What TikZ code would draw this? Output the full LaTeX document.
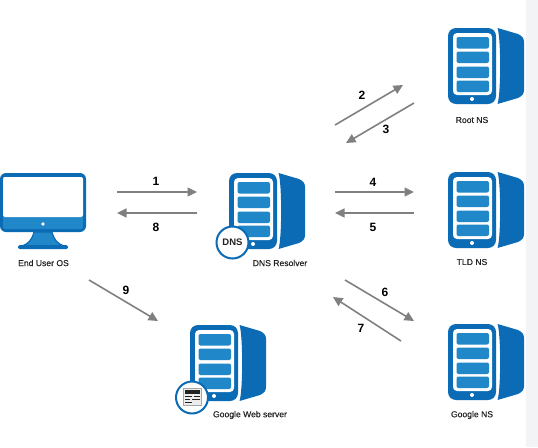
\documentclass[tikz,border=0pt]{standalone}
\usepackage{fontspec}
\setmainfont{Liberation Sans}
\newfontfamily\capfont[FakeBold=0.25]{Liberation Sans}
\usetikzlibrary{arrows.meta}
\definecolor{srvdark}{HTML}{0B6BB5}
\definecolor{srvbar}{HTML}{2087C9}
\definecolor{arrowgray}{HTML}{808080}
\definecolor{panelgray}{HTML}{F3F4F6}
\definecolor{labelink}{HTML}{222222}
\tikzset{
  flow/.style={draw=arrowgray,line width=1.6pt,-{Triangle[length=9.5pt,width=9pt]}},
  numlabel/.style={font=\bfseries\fontsize{12}{13}\selectfont,text=black,inner sep=0pt},
  caption/.style={font=\capfont\fontsize{8.6}{10}\selectfont,text=labelink,inner sep=0pt},
  server/.pic={
    \fill[srvdark,rounded corners=8pt] (0,0) rectangle (48,76);
    \fill[white,rounded corners=4pt] (5,5) rectangle (44,67);
    \foreach \ya/\yb in {9/20.5,23.5/35,38.5/50,52.5/64}
      \fill[srvbar,rounded corners=2pt] (8.5,\ya) rectangle (41,\yb);
    \fill[white] (24,71) circle (2);
    \fill[srvdark] (49.5,0) .. controls (53,10) and (53,66) .. (49.5,76)
       -- (70,70) .. controls (74,68) and (76,66) .. (76,62)
       -- (76,14) .. controls (76,10) and (74,8) .. (70,6) -- cycle;
  }
}
\begin{document}
\begin{tikzpicture}[x=1pt,y=-1pt]
\useasboundingbox (0,0) rectangle (538,447);
\fill[panelgray] (526,0) rectangle (538,447);

% monitor
\fill[srvdark,rounded corners=6pt] (0,173) rectangle (86,232);
\fill[srvbar,rounded corners=2pt] (3,215) rectangle (83,229);
\fill[white,rounded corners=2pt] (3,177) rectangle (83,217);
\fill[white] (43,224) circle (1.8);
\fill[srvbar,draw=srvdark,line width=1.2pt] (34,232) .. controls (32,240) and (28,244) .. (22,246) -- (64,246) .. controls (58,244) and (54,240) .. (52,232) -- cycle;
\fill[srvdark,rounded corners=1.5pt] (18,245) rectangle (68,249);
\node[caption] (user) at (43.5,263) {End User OS};

% servers
\pic at (229,173) {server};
\pic at (448,28) {server};
\pic at (448,172) {server};
\pic at (448,324) {server};
\pic at (190,325) {server};

% badges
\node[circle,draw=srvdark,fill=white,line width=2pt,minimum size=32pt,inner sep=0pt,font=\bfseries\fontsize{9.5}{10}\selectfont,text=labelink] (dnsbadge) at (232.5,242.5) {DNS};
\node[circle,draw=srvdark,fill=white,line width=2pt,minimum size=32pt,inner sep=0pt] (webbadge) at (192,397.5) {};
\fill[gray!70] (183,388) rectangle (202,406);
\fill[gray!15] (184,389) rectangle (201,405);
\fill[labelink] (185,390) rectangle (200,394);
\fill[labelink] (185,396) rectangle (192,397.4);
\fill[labelink] (194,396) rectangle (200,397.4);
\fill[labelink] (185,399) rectangle (190,400.4);
\fill[labelink] (192,399) rectangle (200,400.4);
\fill[labelink] (185,402) rectangle (192,403.4);

% captions
\node[caption] (resolver) at (280,263) {DNS Resolver};
\node[caption] (root) at (472,120) {Root NS};
\node[caption] (tld) at (472,262) {TLD NS};
\node[caption] (gns) at (472,415) {Google NS};
\node[caption] (web) at (250,415) {Google Web server};

% arrow end points
\coordinate (a1s) at (117,192); \coordinate (a1e) at (197,192);
\coordinate (a8s) at (197,213); \coordinate (a8e) at (117,213);
\coordinate (a4s) at (335,192); \coordinate (a4e) at (414,192);
\coordinate (a5s) at (414,213); \coordinate (a5e) at (335,213);
\coordinate (a2s) at (335,125); \coordinate (a2e) at (403,85);
\coordinate (a3s) at (414,103); \coordinate (a3e) at (346,143);
\coordinate (a6s) at (345,280); \coordinate (a6e) at (414,321);
\coordinate (a7s) at (401,341); \coordinate (a7e) at (333,297);
\coordinate (a9s) at (89,280);  \coordinate (a9e) at (158,321);
\foreach \n in {1,...,9} \draw[flow] (a\n s) -- (a\n e);

\node[numlabel] (n1) at (156,181) {1};
\node[numlabel] (n2) at (362,95) {2};
\node[numlabel] (n3) at (386,129) {3};
\node[numlabel] (n4) at (373,182) {4};
\node[numlabel] (n5) at (373,227) {5};
\node[numlabel] (n6) at (385,292) {6};
\node[numlabel] (n7) at (361,328) {7};
\node[numlabel] (n8) at (156,227) {8};
\node[numlabel] (n9) at (126,290) {9};
\end{tikzpicture}
\end{document}
